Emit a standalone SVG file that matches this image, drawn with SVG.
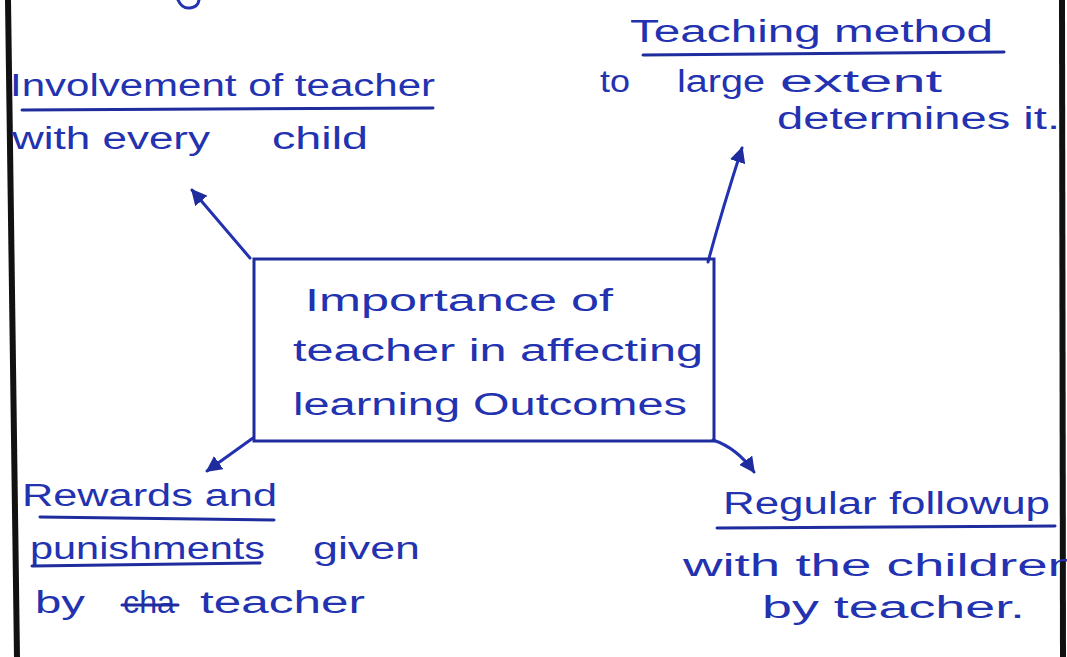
<svg xmlns="http://www.w3.org/2000/svg" width="1067" height="657" viewBox="0 0 1067 657">
  <style>
    .ink { font-family: "Liberation Sans", "DejaVu Sans", sans-serif; fill: #2232b0; font-size: 31px; }
    .rule { stroke: #1e2c9e; stroke-width: 3; fill: none; stroke-linecap: round; }
    .conn { stroke: #2232b0; stroke-width: 3; fill: none; stroke-linecap: round; }
    .edge { stroke: #111111; stroke-width: 6; }
  </style>
  <defs>
    <marker id="head" viewBox="0 0 10 10" refX="9" refY="5" markerWidth="16" markerHeight="16" markerUnits="userSpaceOnUse" orient="auto">
      <path d="M0,0 L10,5 L0,10 z" fill="#1e2c9e"/>
    </marker>
  </defs>

  <!-- paper -->
  <rect width="1067" height="657" fill="#ffffff"/>
  <line class="edge" x1="8" y1="0" x2="17" y2="657"/>
  <line class="edge" x1="1062" y1="0" x2="1063" y2="657"/>

  <!-- ink loop left over from the line above -->
  <path class="conn" d="M178,0 Q182,9 190,8 Q198,7 199,0"/>

  <!-- connectors -->
  <g id="connectors">
    <path class="conn" d="M250,258 L192,190" marker-end="url(#head)"/>
    <path class="conn" d="M708,262 Q722,210 742,148" marker-end="url(#head)"/>
    <path class="conn" d="M253,438 L207,471" marker-end="url(#head)"/>
    <path class="conn" d="M713,440 Q737,448 754,472" marker-end="url(#head)"/>
  </g>

  <!-- central node -->
  <g id="center">
    <rect x="254" y="259" width="460" height="182" fill="none" stroke="#1e2c9e" stroke-width="3"/>
    <text class="ink" x="305" y="311" textLength="308" lengthAdjust="spacingAndGlyphs">Importance of</text>
    <text class="ink" x="293" y="361" textLength="410" lengthAdjust="spacingAndGlyphs">teacher in affecting</text>
    <text class="ink" x="293" y="415" textLength="394" lengthAdjust="spacingAndGlyphs">learning Outcomes</text>
  </g>

  <!-- top left node -->
  <g id="involvement">
    <text class="ink" x="10" y="96" textLength="425" lengthAdjust="spacingAndGlyphs">Involvement of teacher</text>
    <line class="rule" x1="22" y1="110" x2="433" y2="108"/>
    <text class="ink" x="12" y="149" textLength="198" lengthAdjust="spacingAndGlyphs">with every</text>
    <text class="ink" x="272" y="149" textLength="96" lengthAdjust="spacingAndGlyphs">child</text>
  </g>

  <!-- top right node -->
  <g id="teaching-method">
    <text class="ink" x="630" y="42" textLength="363" lengthAdjust="spacingAndGlyphs">Teaching method</text>
    <line class="rule" x1="643" y1="55" x2="1004" y2="52"/>
    <text class="ink" x="600" y="92" textLength="30" lengthAdjust="spacingAndGlyphs">to</text>
    <text class="ink" x="677" y="92" textLength="88" lengthAdjust="spacingAndGlyphs">large</text>
    <text class="ink" x="780" y="92" textLength="162" lengthAdjust="spacingAndGlyphs">extent</text>
    <text class="ink" x="777" y="129" textLength="283" lengthAdjust="spacingAndGlyphs">determines it.</text>
  </g>

  <!-- bottom left node -->
  <g id="rewards">
    <text class="ink" x="22" y="506" textLength="255" lengthAdjust="spacingAndGlyphs">Rewards and</text>
    <line class="rule" x1="40" y1="517" x2="274" y2="520"/>
    <text class="ink" x="30" y="559" textLength="235" lengthAdjust="spacingAndGlyphs">punishments</text>
    <line class="rule" x1="32" y1="566" x2="260" y2="563"/>
    <text class="ink" x="313" y="559" textLength="107" lengthAdjust="spacingAndGlyphs">given</text>
    <text class="ink" x="35" y="613" textLength="50" lengthAdjust="spacingAndGlyphs">by</text>
    <text class="ink" x="123" y="613" textLength="52" lengthAdjust="spacingAndGlyphs">cha</text>
    <line class="rule" x1="122" y1="605" x2="178" y2="605"/>
    <text class="ink" x="200" y="613" textLength="165" lengthAdjust="spacingAndGlyphs">teacher</text>
  </g>

  <!-- bottom right node -->
  <g id="followup">
    <text class="ink" x="723" y="514" textLength="327" lengthAdjust="spacingAndGlyphs">Regular followup</text>
    <line class="rule" x1="717" y1="528" x2="1055" y2="526"/>
    <text class="ink" x="683" y="576" textLength="395" lengthAdjust="spacingAndGlyphs">with the children</text>
    <text class="ink" x="762" y="618" textLength="263" lengthAdjust="spacingAndGlyphs">by teacher.</text>
  </g>
</svg>
